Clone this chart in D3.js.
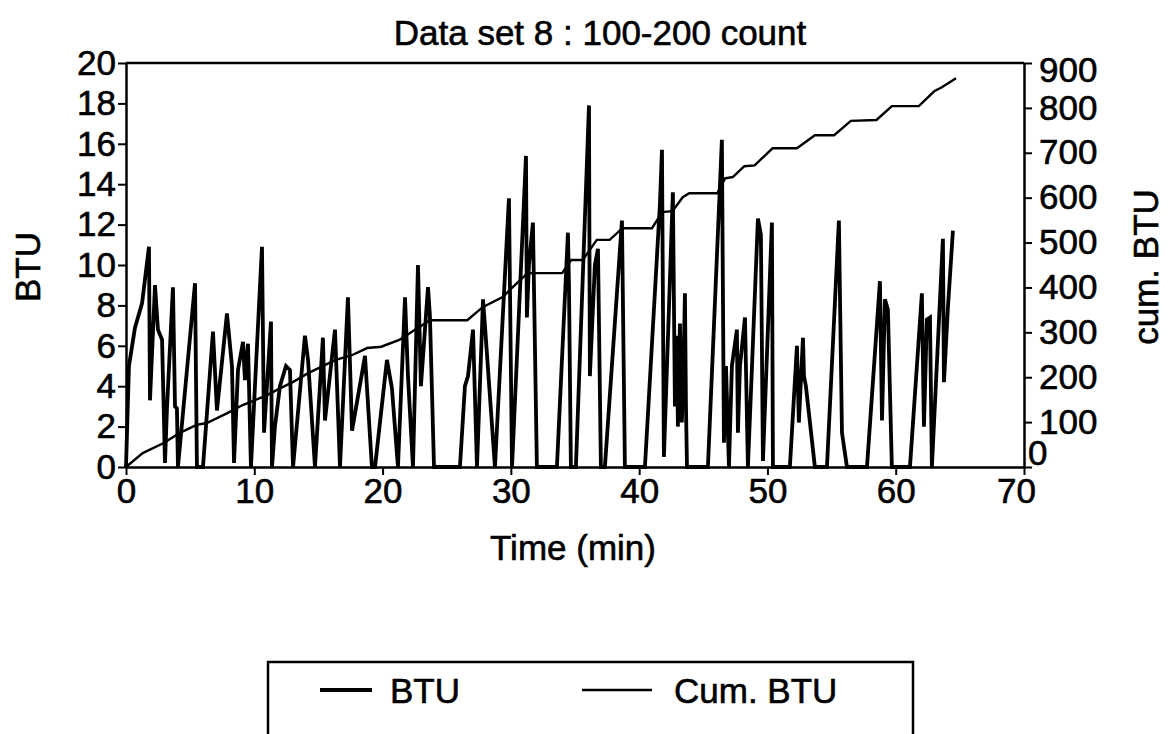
<!DOCTYPE html>
<html>
<head>
<meta charset="utf-8">
<script src="https://cdn.jsdelivr.net/npm/d3@7"></script>
<style>
  body { margin: 0; background: #fff; }
  svg { display: block; }
  text { font-family: "Liberation Sans", Arial, sans-serif; fill: #000; stroke: #000; stroke-width: 0.6px; }
</style>
</head>
<body>
<svg id="chart" width="1174" height="734"></svg>
<script>
// BTU readings (time in minutes)
const btuTime = [0, 0.23, 0.7, 1.25, 1.79, 1.87, 2.26, 2.49, 2.81, 3.04, 3.2, 3.66, 3.82, 3.97, 4.05,
  5.38, 5.53, 6.0, 6.78, 7.09, 7.87, 8.26, 8.42, 8.73, 9.12, 9.27, 9.51, 9.74, 10.13, 10.6, 10.76,
  11.3, 11.38, 11.61, 12.0, 12.47, 12.78, 13.02, 13.95, 14.19, 14.73, 15.35, 15.51, 16.29, 16.68,
  17.3, 17.62, 18.63, 19.17, 19.41, 20.34, 20.73, 21.2, 21.75, 21.98, 22.37, 22.76, 22.99, 23.54,
  23.69, 24.01, 26.03, 26.42, 26.66, 27.05, 27.36, 27.83, 27.98, 28.76, 29.85, 30.09, 31.18, 31.25,
  31.41, 31.72, 32.03, 33.59, 34.45, 34.53, 34.68, 35.07, 36.09, 36.16, 36.55, 36.79, 37.02, 37.33,
  38.66, 38.89, 40.45, 41.62, 41.78, 41.93, 42.63, 42.79, 42.95, 43.02, 43.18, 43.26, 43.33, 43.49,
  43.57, 43.65, 43.73, 45.36,
  46.45, 46.61, 46.77, 47.0, 47.23, 47.62, 47.7, 47.86, 48.25, 48.48, 49.26, 49.49, 49.65, 50.35,
  50.43, 51.75, 52.3, 52.45, 52.77, 52.85, 53.0, 53.7, 54.64, 55.57, 55.81, 56.2, 57.76, 58.77, 58.93,
  59.16, 59.39, 59.7, 61.11, 62.04, 62.2, 62.43, 62.67, 62.82, 63.68, 63.76, 64.07, 64.46];
const btu = [0, 5.0, 6.9, 8.1, 10.9, 3.3, 9.0, 6.8, 6.3, 0.2, 3.0, 8.9, 3.0, 2.9, 0,
  9.1, 0, 0, 6.7, 2.8, 7.6, 5.0, 0.2, 4.8, 6.2, 4.3, 6.1, 0, 5.0, 10.9, 1.7,
  7.2, 0, 2.0, 4.0, 5.0, 4.8, 0, 6.5, 5.3, 0, 6.4, 2.3, 6.8, 0,
  8.4, 1.8, 5.5, 0, 0, 5.3, 3.9, 0, 8.4, 4.5, 0, 10.0, 4.0, 8.9,
  7.5, 0, 0, 4.0, 4.5, 6.8, 0, 8.3, 7.0, 0, 13.3, 0, 15.4, 7.4,
  10.0, 12.1, 0, 0, 11.6, 9.0, 0, 0, 17.9, 4.5, 10.0, 10.8, 0, 0,
  12.2, 0, 0, 13.0, 15.7, 0.5, 13.6, 3.0, 6.5, 2.0, 7.1, 4.0, 2.2, 6.0,
  8.6, 3.0, 0, 0,
  16.2, 1.2, 5.0, 0, 5.0, 6.8, 1.7, 5.0, 7.4, 0, 12.3, 11.5, 0.3, 12.1,
  0, 0, 6.0, 2.2, 6.4, 4.5, 4.0, 0, 0, 12.2, 1.7, 0, 0, 9.2, 2.3,
  8.3, 7.8, 0, 0, 8.6, 2.0, 7.3, 7.4, 0, 11.3, 4.2, 7.9, 11.7];

// cumulative BTU
const cumTime = [0, 1.3, 2.9, 4.2, 5.5, 6.3, 7.9, 9.1, 11.0, 12.0, 13.0, 14.2, 16.3, 17.6, 18.8,
  19.9, 21.3, 22.5, 23.7, 26.6, 27.8, 29.4, 29.9, 31.3, 34.0, 34.7, 35.6, 36.7, 37.7, 38.7, 41.0,
  41.8, 42.6, 43.4, 43.9, 46.1, 46.7, 47.3, 48.2, 49.0, 50.4, 52.3, 53.7, 55.2, 56.5, 58.5, 59.7,
  61.8, 63.0, 63.6, 64.7];
const cumBtu = [0, 31, 53, 76, 94, 98, 120, 138, 160, 175, 189, 209, 238, 249, 265,
  268, 283, 305, 327, 327, 356, 379, 394, 432, 432, 461, 461, 506, 506, 532, 532,
  568, 570, 601, 610, 610, 643, 646, 670, 672, 710, 710, 739, 739, 771, 773, 804,
  804, 837, 846, 866];

const xTicks = [0, 10, 20, 30, 40, 50, 60, 70];
const leftTicks = [0, 2, 4, 6, 8, 10, 12, 14, 16, 18, 20];
const rightTicks = [0, 100, 200, 300, 400, 500, 600, 700, 800, 900];

const svg = d3.select('#chart');

const plot = { left: 126, right: 1024, top: 63, bottom: 467 };
const fontSize = 35;

const x = d3.scaleLinear().domain([0, 70]).range([plot.left, plot.right]);
const yL = d3.scaleLinear().domain([0, 20]).range([plot.bottom, plot.top]);
const yR = d3.scaleLinear().domain([0, 900]).range([plot.bottom, plot.top]);

// frame top
svg.append('line')
  .attr('x1', plot.left).attr('x2', plot.right)
  .attr('y1', plot.top).attr('y2', plot.top)
  .attr('stroke', '#000').attr('stroke-width', 2.5);

const styleAxis = g => {
  g.select('.domain').attr('stroke', '#000').attr('stroke-width', 2.5);
  g.selectAll('.tick line').attr('stroke', '#000').attr('stroke-width', 2);
  g.selectAll('.tick text').attr('font-size', fontSize).attr('fill', '#000')
    .style('font-family', '"Liberation Sans", Arial, sans-serif');
};

const xAxis = svg.append('g')
  .attr('transform', `translate(0, ${plot.bottom})`)
  .call(d3.axisBottom(x).tickValues(xTicks).tickSize(8).tickSizeOuter(0).tickPadding(3))
  .call(styleAxis);

xAxis.selectAll('.tick text')
  .filter(d => d === 70)
  .attr('x', -8);

svg.append('g')
  .attr('transform', `translate(${plot.left}, 0)`)
  .call(d3.axisLeft(yL).tickValues(leftTicks).tickSize(8).tickSizeOuter(0).tickPadding(2))
  .call(styleAxis);

const rAxis = svg.append('g')
  .attr('transform', `translate(${plot.right}, 0)`)
  .call(d3.axisRight(yR).tickValues(rightTicks).tickSize(8).tickSizeOuter(0).tickPadding(7))
  .call(styleAxis);

// the old plotter keeps the end labels inside the axis span
rAxis.selectAll('.tick text')
  .filter(d => d === 900)
  .attr('y', 7);
rAxis.selectAll('.tick text')
  .filter(d => d === 0)
  .attr('x', 4)
  .attr('y', -14);

// series
const btuLine = d3.line()
  .x((d, i) => x(btuTime[i]))
  .y(d => yL(d));

svg.append('path')
  .datum(btu)
  .attr('fill', 'none')
  .attr('stroke', '#000')
  .attr('stroke-width', 3.8)
  .attr('stroke-linejoin', 'miter')
  .attr('stroke-miterlimit', 3)
  .attr('d', btuLine);

const cumLine = d3.line()
  .x((d, i) => x(cumTime[i]))
  .y(d => yR(d));

svg.append('path')
  .datum(cumBtu)
  .attr('fill', 'none')
  .attr('stroke', '#000')
  .attr('stroke-width', 2.4)
  .attr('d', cumLine);

// titles
svg.append('text')
  .attr('x', 600).attr('y', 45)
  .attr('text-anchor', 'middle')
  .attr('font-size', fontSize)
  .text('Data set 8 : 100-200 count');

svg.append('text')
  .attr('x', 573).attr('y', 560)
  .attr('text-anchor', 'middle')
  .attr('font-size', fontSize)
  .text('Time (min)');

svg.append('text')
  .attr('transform', 'translate(40, 267) rotate(-90)')
  .attr('text-anchor', 'middle')
  .attr('font-size', fontSize)
  .text('BTU');

svg.append('text')
  .attr('transform', 'translate(1158, 267) rotate(-90)')
  .attr('text-anchor', 'middle')
  .attr('font-size', fontSize)
  .text('cum. BTU');

// legend
const legend = svg.append('g');
legend.append('path')
  .attr('d', 'M268,745 V662 H913 V745')
  .attr('fill', 'none')
  .attr('stroke', '#000')
  .attr('stroke-width', 2.5);

const legendItems = [
  { label: 'BTU', x0: 320, x1: 372, tx: 390, w: 3.8 },
  { label: 'Cum. BTU', x0: 582, x1: 652, tx: 674, w: 2.4 }
];
legendItems.forEach(it => {
  legend.append('line')
    .attr('x1', it.x0).attr('x2', it.x1)
    .attr('y1', 690).attr('y2', 690)
    .attr('stroke', '#000').attr('stroke-width', it.w);
  legend.append('text')
    .attr('x', it.tx).attr('y', 703)
    .attr('font-size', fontSize)
    .text(it.label);
});
</script>
</body>
</html>
